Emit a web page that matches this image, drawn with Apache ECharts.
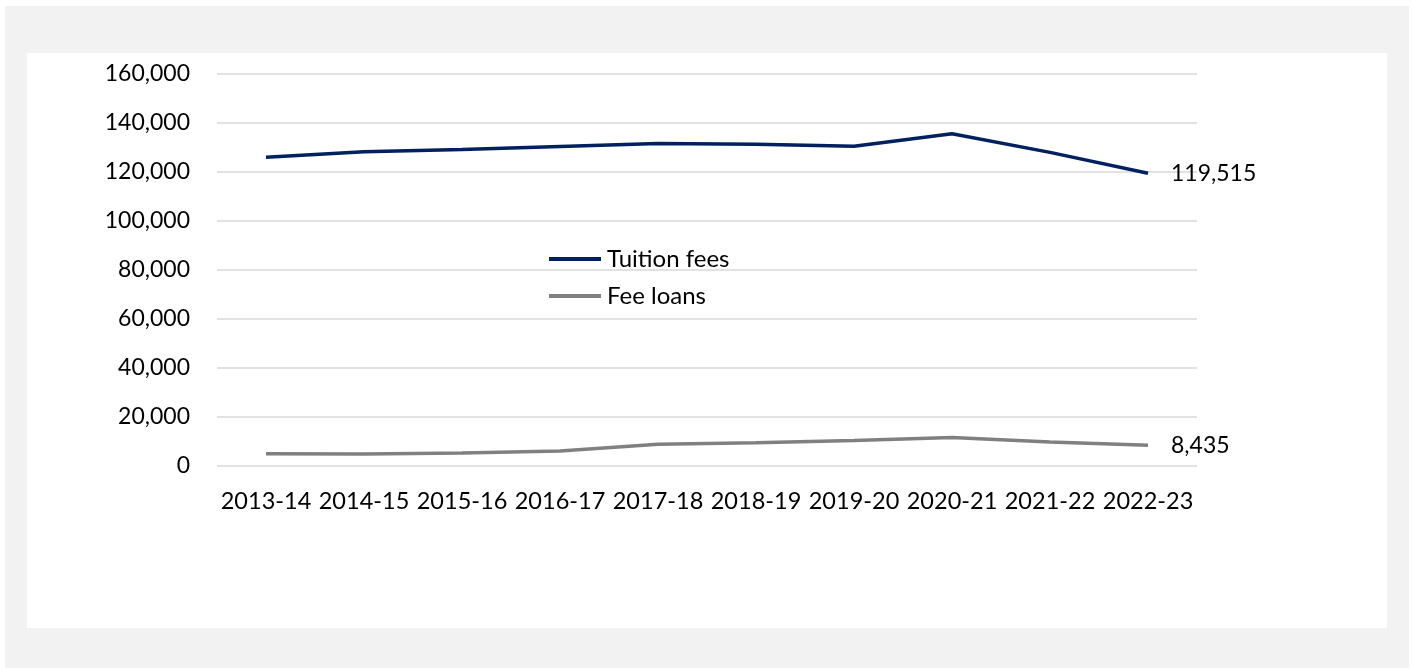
<!DOCTYPE html>
<html>
<head>
<meta charset="utf-8">
<script src="https://cdn.jsdelivr.net/npm/echarts@6/dist/echarts.min.js"></script>
<style>
  html, body { margin: 0; padding: 0; background: #fff; }
  #chart { width: 1412px; height: 670px; }
</style>
</head>
<body>
<div id="chart"></div>
<script>
const years = ['2013-14', '2014-15', '2015-16', '2016-17', '2017-18', '2018-19', '2019-20', '2020-21', '2021-22', '2022-23'];
const tuitionFees = [126000, 128300, 129200, 130400, 131600, 131300, 130500, 135600, 128000, 119515];
const feeLoans = [4950, 4900, 5300, 6100, 8900, 9500, 10400, 11600, 9800, 8435];

const font = 'Lato, "Open Sans", sans-serif';
const fmt = (v) => Number(v).toLocaleString('en-US');

const chart = echarts.init(document.getElementById('chart'));
chart.setOption({
  backgroundColor: '#fff',
  animation: false,
  textStyle: { fontFamily: font },
  graphic: [
    { type: 'rect', z: -10, silent: true, shape: { x: 5, y: 6, width: 1404, height: 662 }, style: { fill: '#f2f2f2' } },
    { type: 'rect', z: -9, silent: true, shape: { x: 27, y: 53, width: 1360, height: 575 }, style: { fill: '#fff' } },
  ],
  grid: { left: 217, right: 215, top: 74, bottom: 204 },
  legend: {
    orient: 'vertical',
    left: 544,
    top: 242,
    itemWidth: 52,
    itemHeight: 4,
    itemGap: 13,
    icon: 'rect',
    textStyle: { fontSize: 24, color: '#000', fontFamily: font, padding: [0, 0, 0, 1] },
    data: ['Tuition fees', 'Fee loans'],
  },
  xAxis: {
    type: 'category',
    data: years,
    boundaryGap: true,
    axisLine: { show: false },
    axisTick: { show: false },
    axisLabel: { color: '#000', fontSize: 23.5, margin: 23, interval: 0, fontFamily: font },
  },
  yAxis: {
    type: 'value',
    min: 0,
    max: 160000,
    interval: 20000,
    axisLine: { show: false },
    axisTick: { show: false },
    axisLabel: { color: '#000', fontSize: 23, margin: 27, fontFamily: font, formatter: fmt },
    splitLine: { lineStyle: { color: '#d9d9d9', width: 1.5 } },
  },
  series: [
    {
      name: 'Tuition fees',
      type: 'line',
      data: tuitionFees,
      symbol: 'none',
      color: '#002060',
      lineStyle: { width: 3.5, color: '#002060' },
      endLabel: { show: true, formatter: (p) => fmt(p.value), color: '#000', fontSize: 23, distance: 23, fontFamily: font },
    },
    {
      name: 'Fee loans',
      type: 'line',
      data: feeLoans,
      symbol: 'none',
      color: '#808080',
      lineStyle: { width: 3.5, color: '#808080' },
      endLabel: { show: true, formatter: (p) => fmt(p.value), color: '#000', fontSize: 23, distance: 23, fontFamily: font },
    },
  ],
});
</script>
</body>
</html>
